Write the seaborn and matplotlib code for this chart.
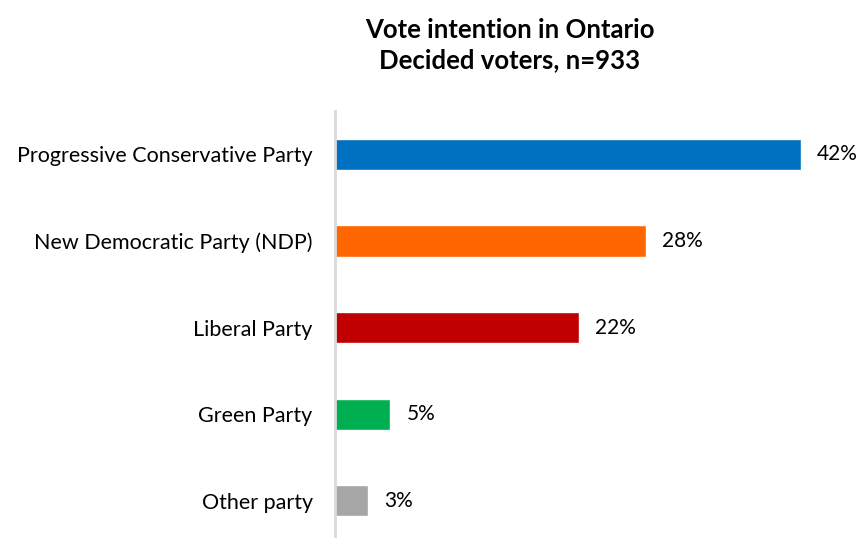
import matplotlib
matplotlib.use("Agg")
import matplotlib.pyplot as plt
import seaborn as sns
import pandas as pd

categories = ["Progressive Conservative Party", "New Democratic Party (NDP)",
              "Liberal Party", "Green Party", "Other party"]
values = [42, 28, 22, 5, 3]
colors = ["#0070C0", "#FF6600", "#C00000", "#00B050", "#A6A6A6"]
title = "Vote intention in Ontario\nDecided voters, n=933"

sns.set_theme(style="white")
plt.rcParams["font.family"] = ["Lato", "DejaVu Sans"]

df = pd.DataFrame({"party": categories, "pct": values})

fig = plt.figure(figsize=(8.6, 5.38), dpi=100)
ax = fig.add_axes([0.3895, 0.0, 0.6065, 0.7937])
sns.barplot(data=df, y="party", x="pct", hue="party", palette=colors,
            order=categories, hue_order=categories, legend=False,
            width=0.36, orient="h", ax=ax, saturation=1)

ax.set_xlim(0, 47)
ax.set_ylim(4.43, -0.5)
ax.set_xlabel("")
ax.set_ylabel("")
ax.set_xticks([])
for s in ["top", "right", "bottom"]:
    ax.spines[s].set_visible(False)
ax.spines["left"].set_color("#D9D9D9")
ax.spines["left"].set_linewidth(2)
ax.tick_params(axis="y", length=0, pad=16, labelsize=15.5, labelcolor="#000000")

for i, v in enumerate(values):
    ax.text(v + 1.45, i, f"{v}%", va="center", ha="left", fontsize=15, color="#000000")

fig.text(0.593, 0.966, title, ha="center", va="top", fontsize=18.5, fontweight="bold",
         linespacing=1.3, color="#000000")

fig.savefig("out.png", dpi=100)
